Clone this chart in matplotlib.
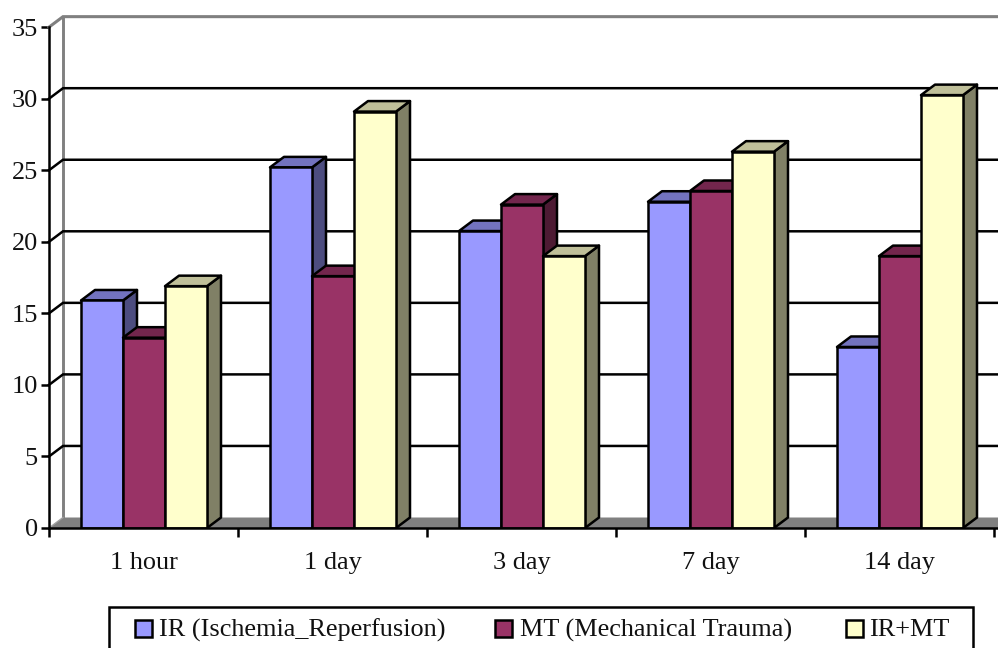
import matplotlib
matplotlib.use("Agg")
import matplotlib.pyplot as plt
from matplotlib.patches import Polygon, Rectangle

categories = ["1 hour", "1 day", "3 day", "7 day", "14 day"]
ir = [15.9, 25.2, 20.75, 22.8, 12.65]
mt = [13.3, 17.6, 22.6, 23.55, 19.0]
ir_mt = [16.9, 29.1, 19.0, 26.3, 30.25]
series_names = ["IR (Ischemia_Reperfusion)", "MT (Mechanical Trauma)", "IR+MT"]
y_ticks = [0, 5, 10, 15, 20, 25, 30, 35]

front = ["#9999ff", "#993366", "#ffffcc"]
top = ["#7373bf", "#73264d", "#bfbf99"]
side = ["#4d4d80", "#4d1a33", "#808066"]
GRAY = "#808080"

plt.rcParams["font.family"] = ["Liberation Serif", "DejaVu Serif"]
W, H = 998, 648
PX_X, PX_Y = 189.0, 14.31   # pixels per category / per y unit
fig = plt.figure(figsize=(W / 100, H / 100), dpi=100, facecolor="white")
ax = fig.add_axes([49 / W, (H - 528) / H, (W - 49) / W, (528 - 17) / H])
ax.set_xlim(0, (W - 49) / PX_X)
ax.set_ylim(0, (528 - 17) / PX_Y)
for s in ax.spines.values():
    s.set_visible(False)
ax.patch.set_visible(False)

dx, dy = 14 / PX_X, 10.5 / PX_Y
xmax = ax.get_xlim()[1]
ymax = ax.get_ylim()[1]
LW = 1.8
FS = 18.9

# floor and walls
ax.add_patch(Polygon([(0, 0), (dx, dy), (xmax, dy), (xmax, 0)], closed=True, fc=GRAY, ec="none", zorder=1))
ax.plot([dx, dx], [dy, ymax], color=GRAY, lw=LW + 0.3, zorder=2, clip_on=False, solid_capstyle="butt")
ax.plot([0, dx], [0, dy], color="#a0a0a0", lw=1.0, zorder=2, clip_on=False)
for v in y_ticks[1:]:
    c = GRAY if v == 35 else "black"
    ax.plot([0, dx, xmax], [v, v + dy, v + dy], color=c, lw=LW + (0.4 if v == 35 else 0), zorder=2, clip_on=False,
            solid_joinstyle="miter")

# bars
bw = 42 / PX_X
off = 32 / PX_X
for i, cat in enumerate(categories):
    for j, vals in enumerate([ir, mt, ir_mt]):
        x0 = i + off + j * bw
        v = vals[i]
        z = 5 + i * 10 + j
        kw = dict(closed=True, ec="black", lw=LW, joinstyle="round", zorder=z)
        ax.add_patch(Polygon([(x0 + bw, 0), (x0 + bw + dx, dy), (x0 + bw + dx, v + dy), (x0 + bw, v)], fc=side[j], **kw))
        ax.add_patch(Polygon([(x0, v), (x0 + dx, v + dy), (x0 + bw + dx, v + dy), (x0 + bw, v)], fc=top[j], **kw))
        ax.add_patch(Polygon([(x0, 0), (x0, v), (x0 + bw, v), (x0 + bw, 0)], fc=front[j], **kw))

# axes
ax.plot([0, 0], [0, 35], color="black", lw=LW, zorder=90, clip_on=False, solid_capstyle="projecting")
ax.plot([0, xmax], [0, 0], color="black", lw=LW, zorder=90, clip_on=False)
ax.set_xticks(range(len(categories) + 1))
ax.set_xticks([i + 0.5 for i in range(len(categories))], minor=True)
ax.set_xticklabels([""] * (len(categories) + 1))
ax.set_xticklabels(categories, minor=True, fontsize=FS, color="#111111")
ax.set_yticks(y_ticks)
ax.set_yticklabels([str(v) for v in y_ticks], fontsize=FS, color="#111111")
ax.tick_params(axis="x", which="major", length=6.5, width=LW, direction="out", color="black")
ax.tick_params(axis="x", which="minor", length=0, pad=17.5)
ax.tick_params(axis="y", which="major", length=6, width=LW, direction="out", color="black", pad=2)

# legend (box runs off the bottom edge in the reference)
fx = lambda p: p / W
fy = lambda p: (H - p) / H
fig.add_artist(Rectangle((fx(109), fy(660)), (973 - 109) / W, (660 - 607) / H, fc="white", ec="black", lw=LW,
                         transform=fig.transFigure))
for name, c, sx, tx in zip(series_names, front, [135, 495, 846], [159, 520, 869]):
    fig.add_artist(Rectangle((fx(sx), fy(637)), 17 / W, 17 / H, fc=c, ec="black", lw=LW, transform=fig.transFigure))
    fig.text(fx(tx), fy(630), name, fontsize=FS, va="center", ha="left", color="#111111")

fig.savefig("out.png", dpi=100, facecolor="white")
